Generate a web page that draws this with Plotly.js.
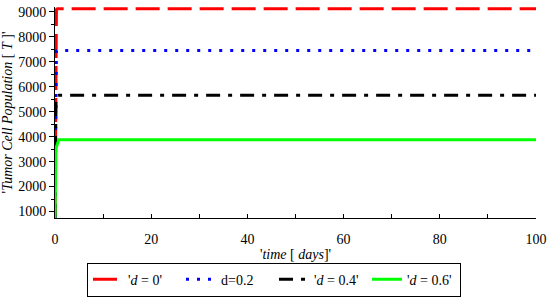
<!DOCTYPE html>
<html>
<head>
<meta charset="utf-8">
<script src="https://cdn.plot.ly/plotly-3.0.1.min.js"></script>
<style>html,body{margin:0;padding:0;background:#fff;}#chart{width:550px;height:304px;}</style>
</head>
<body>
<div id="chart"></div>
<script>
// time points (days)
const timeDays = [0, 0.05, 0.1, 0.15, 0.2, 0.3, 0.5, 0.8, 1, 100];
// tumor cell population for each death rate d
const popD0   = [740, 3000, 6000, 8000, 8900, 9100, 9130, 9130, 9130, 9130];
const popD02  = [740, 2800, 5500, 6900, 7300, 7440, 7460, 7460, 7460, 7460];
const popD04  = [740, 2600, 4500, 5300, 5550, 5640, 5660, 5660, 5660, 5660];
const popD06  = [740, 2300, 3300, 3500, 3550, 3600, 3750, 3880, 3880, 3880];
const seriesNames = ["'<i>d</i> = 0'", "d=0.2", "'<i>d</i> = 0.4'", "'<i>d</i> = 0.6'"];
const xTicks = [0, 20, 40, 60, 80, 100];
const yTicks = [1000, 2000, 3000, 4000, 5000, 6000, 7000, 8000, 9000];

const font = 'Liberation Serif, DejaVu Serif';
const traces = [
  {x: timeDays, y: popD0,  name: seriesNames[0], mode: 'lines', line: {color: '#ff0000', width: 3, dash: '24px,8px'}},
  {x: timeDays, y: popD02, name: seriesNames[1], mode: 'lines', line: {color: '#0000ff', width: 3, dash: '3px,8px'}},
  {x: timeDays, y: popD04, name: seriesNames[2], mode: 'lines', line: {color: '#000000', width: 3, dash: '14px,8px,4px,8px'}},
  {x: timeDays, y: popD06, name: seriesNames[3], mode: 'lines', line: {color: '#00ff00', width: 3}}
];
const layout = {
  width: 550, height: 304,
  margin: {l: 55, r: 14, t: 7, b: 77},
  paper_bgcolor: '#fff', plot_bgcolor: '#fff',
  font: {family: font, size: 14, color: '#000'},
  showlegend: true,
  xaxis: {
    range: [0, 100], tickvals: xTicks, ticktext: xTicks.map(String),
    showgrid: false, zeroline: false, showline: true, linecolor: '#000', linewidth: 1,
    ticks: 'inside', ticklen: 4, tickcolor: '#000', ticklabelstandoff: 8,
    minor: {dtick: 10, ticks: 'inside', ticklen: 4, tickcolor: '#000', showgrid: false},
    title: {text: "'<i>time</i> [ <i>days</i>]'", font: {family: font, size: 14}, standoff: 3},
    tickfont: {family: font, size: 14}
  },
  yaxis: {
    automargin: false,
    range: [740, 9200], tickvals: yTicks, ticktext: yTicks.map(String),
    showgrid: false, zeroline: false, showline: true, linecolor: '#000', linewidth: 1,
    ticks: 'outside', ticklen: 5, tickcolor: '#000',
    minor: {dtick: 500, tick0: 500, ticks: 'outside', ticklen: 3, tickcolor: '#000', showgrid: false},
    title: {text: "'<i>Tumor Cell Population</i> [ <i>T</i> ]'", font: {family: font, size: 14}, standoff: 6},
    tickfont: {family: font, size: 14}
  },
  legend: {
    orientation: 'h', x: 0.0665, xanchor: 'left', y: -0.212, yanchor: 'top',
    bordercolor: '#000', borderwidth: 1, bgcolor: '#fff', entrywidth: 48,
    font: {family: font, size: 14}, traceorder: 'normal'
  }
};
Plotly.newPlot('chart', traces, layout, {displayModeBar: false, staticPlot: true});
</script>
</body>
</html>
